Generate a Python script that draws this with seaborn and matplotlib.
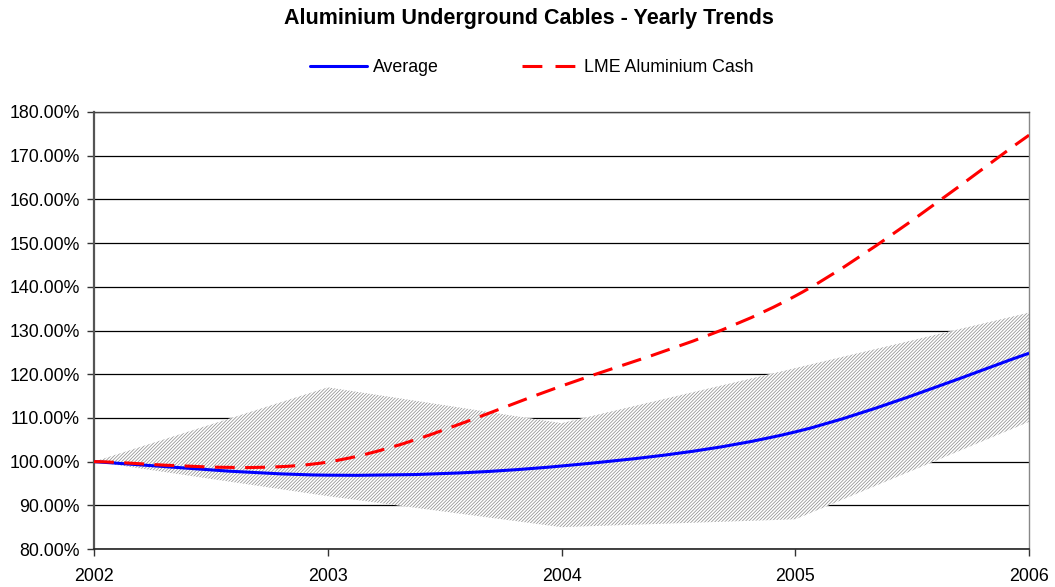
import numpy as np
import matplotlib
matplotlib.use("Agg")
import matplotlib.pyplot as plt
from matplotlib.path import Path
from matplotlib.patches import PathPatch
from matplotlib.lines import Line2D
from matplotlib.ticker import FuncFormatter
import seaborn as sns

# Yearly index values (2002 = 100 %)
years = [2002, 2003, 2004, 2005, 2006]
average = [100.0, 96.9, 99.0, 106.8, 124.8]
lme_cash = [100.0, 99.9, 117.3, 137.9, 174.7]
range_high = [100.0, 117.0, 108.8, 121.4, 134.1]
range_low = [100.0, 92.1, 85.0, 86.8, 109.1]
y_ticks = list(range(80, 181, 10))

title = "Aluminium Underground Cables - Yearly Trends"
series_names = ["Average", "LME Aluminium Cash"]

sns.set_theme(style="white")
plt.rcParams["font.family"] = ["Liberation Sans", "DejaVu Sans"]
plt.rcParams["hatch.linewidth"] = 0.55
plt.rcParams["text.color"] = "black"


def smooth_path(xs, ys):
    """Cubic Bezier path through the points (spreadsheet-style smoothing)."""
    pts = np.column_stack([xs, ys]).astype(float)
    n = len(pts)
    verts = [pts[0]]
    codes = [Path.MOVETO]
    for i in range(n - 1):
        p_prev = pts[max(i - 1, 0)]
        p_next2 = pts[min(i + 2, n - 1)]
        c1 = pts[i] + (pts[i + 1] - p_prev) / 6.0
        c2 = pts[i + 1] - (p_next2 - pts[i]) / 6.0
        verts += [c1, c2, pts[i + 1]]
        codes += [Path.CURVE4] * 3
    return Path(verts, codes)


fig = plt.figure(figsize=(10.55, 5.87), dpi=100)
ax = fig.add_axes([0.0891, 0.0647, 0.8863, 0.7445])
ax.set_axisbelow(True)

# min/max range band
ax.fill_between(years, range_low, range_high, facecolor="white",
                edgecolor="#909090", hatch="//////////", linewidth=0, zorder=2)

dash = (0, (6.5, 3.4))
ax.add_patch(PathPatch(smooth_path(years, average), fill=False,
                       edgecolor="#0000ff", lw=2.2, zorder=4,
                       capstyle="butt"))
ax.add_patch(PathPatch(smooth_path(years, lme_cash), fill=False,
                       edgecolor="#ff0000", lw=2.2, linestyle=dash, zorder=5,
                       capstyle="butt"))

ax.set_xlim(years[0], years[-1])
ax.set_ylim(y_ticks[0], y_ticks[-1])
ax.set_xticks(years)
ax.set_xticklabels([str(y) for y in years])
ax.set_yticks(y_ticks)
ax.yaxis.set_major_formatter(FuncFormatter(lambda v, _: f"{v:.2f}%"))

ax.yaxis.grid(True, color="black", lw=0.9)
ax.xaxis.grid(False)
ax.tick_params(axis="both", which="major", direction="out", length=5,
               width=1, color="#333333", labelsize=12.8, labelcolor="black",
               bottom=True, left=True)
ax.tick_params(axis="x", pad=9)
ax.tick_params(axis="y", pad=5)

for side, col, lw in [("left", "#555555", 1.6), ("bottom", "#222222", 1.2),
                      ("right", "#888888", 1.0), ("top", "#444444", 1.0)]:
    ax.spines[side].set_visible(True)
    ax.spines[side].set_color(col)
    ax.spines[side].set_linewidth(lw)

fig.text(0.5014, 0.968, title, ha="center", va="center",
         fontsize=15.5, fontweight="bold", color="black")

handles = [Line2D([], [], color="#0000ff", lw=2.2),
           Line2D([], [], color="#ff0000", lw=2.2, linestyle=(0, (6.5, 4.3)))]
leg = fig.legend(handles, series_names, loc="center",
                 bbox_to_anchor=(532 / 1055, 1 - 68 / 587), ncol=2,
                 frameon=False, fontsize=12.8, handlelength=3.2,
                 handletextpad=0.3, columnspacing=4.7)
for t in leg.get_texts():
    t.set_color("black")

fig.savefig("out.png", dpi=100)
